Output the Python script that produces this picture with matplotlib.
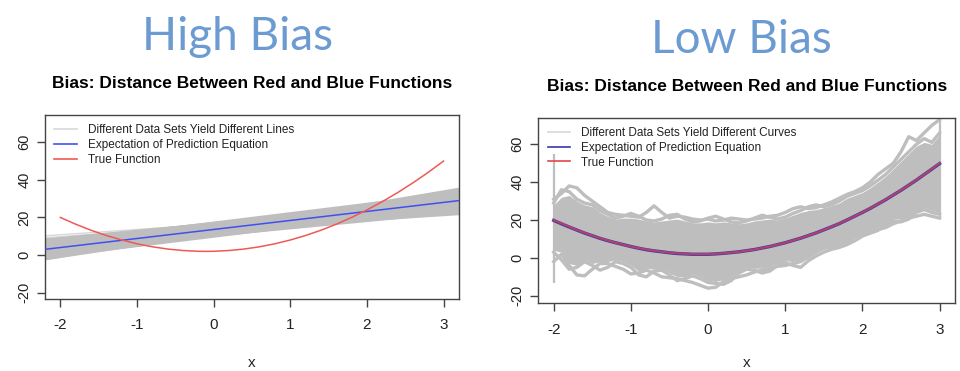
import matplotlib.pyplot as plt

plt.rcParams['font.family'] = ['Liberation Sans', 'DejaVu Sans']

# fitted straight lines (intercept, slope), one per simulated data set
line_intercepts = [13.07, 13.85, 14.63, 15.41, 15.78, 16.56, 14.74, 12.74, 13.70, 12.93, 11.96, 11.59,
                   11.22, 11.44, 12.22, 12.59, 13.37, 13.63, 14.00, 14.37, 16.78, 10.00, 10.56, 17.00]
line_slopes = [6.85, 6.30, 5.74, 5.19, 4.44, 3.89, 3.52, 3.52, 2.59, 3.15, 4.07, 4.81,
               5.56, 6.11, 5.56, 4.81, 4.26, 5.74, 5.00, 4.26, 4.44, 5.00, 3.89, 5.00]
# a couple of stray fits that poke out above the band on the left
stray_intercepts = [16.4, 15.6]
stray_slopes = [2.8, 2.9]
# expectation of the linear prediction equation
expect_intercept = 13.6
expect_slope = 4.8

# true function sampled on x = -2 .. 3
x_grid = [-2.0, -1.9, -1.8, -1.7, -1.6, -1.5, -1.4, -1.3, -1.2, -1.1, -1.0, -0.9, -0.8, -0.7, -0.6, -0.5, -0.4,
          -0.3, -0.2, -0.1, 0.0, 0.1, 0.2, 0.3, 0.4, 0.5, 0.6, 0.7, 0.8, 0.9, 1.0, 1.1, 1.2, 1.3, 1.4, 1.5,
          1.6, 1.7, 1.8, 1.9, 2.0, 2.1, 2.2, 2.3, 2.4, 2.5, 2.6, 2.7, 2.8, 2.9, 3.0]
true_y = [20.0, 18.2, 16.4, 14.8, 13.2, 11.8, 10.4, 9.2, 8.0, 7.0, 6.0, 5.2, 4.4, 3.8, 3.2, 2.8, 2.4,
          2.2, 2.0, 1.95, 2.0, 2.2, 2.4, 2.8, 3.2, 3.8, 4.4, 5.2, 6.0, 7.0, 8.0, 9.2, 10.4, 11.8, 13.2, 14.8,
          16.4, 18.2, 20.0, 22.0, 24.0, 26.2, 28.4, 30.8, 33.2, 35.8, 38.4, 41.2, 44.0, 47.0, 50.0]
# expectation of the flexible fits (sits on top of the true function)
flex_expect_y = [19.8, 18.0, 16.3, 14.7, 13.1, 11.7, 10.3, 9.1, 8.0, 7.0, 6.0, 5.1, 4.3, 3.7, 3.2, 2.7, 2.3,
                 2.1, 1.9, 1.9, 1.9, 2.1, 2.4, 2.8, 3.2, 3.8, 4.4, 5.2, 6.0, 7.0, 8.0, 9.2, 10.4, 11.8, 13.2, 14.8,
                 16.4, 18.1, 20.0, 22.0, 24.0, 26.1, 28.4, 30.7, 33.2, 35.7, 38.4, 41.1, 44.0, 46.9, 49.8]
# dense core of the flexible fits
core_top = [28, 32, 33, 30, 28, 27, 24, 22, 20.5, 21, 21, 20.5, 19.5, 19, 19.5, 20, 20.5,
            19.5, 18.5, 18.5, 19, 18.5, 19, 18.5, 18, 18.5, 19.5, 20, 20.5, 20, 21, 22.5, 24, 25, 25.5, 26.5,
            27.5, 29, 31.5, 33, 34.5, 37, 40, 43, 47, 51, 55, 59, 61, 60, 65]
core_bottom = [4, 3, -3, -4, -1, -3, -2, -2, -1, -2, -4, -7, -5.5, -6, -5.5, -8, -10,
               -10, -8.5, -10, -12, -12.5, -11.5, -10, -7, -5, -5.5, -5.5, -4.5, -3, -1.5, -2, -1, 1.5, 4, 6,
               7, 8, 9.5, 12, 14, 15, 16, 18, 20.5, 20.5, 22, 25, 26.5, 25, 24]
# wiggly individual curves along the outside of the cloud
upper_a = [31, 34, 38, 37, 33, 30, 27, 24, 23, 22.5, 22, 21.5, 24, 27.5, 24, 21, 22,
           21.5, 20.5, 20, 20.5, 19.5, 20, 21, 20.5, 20, 20.5, 21, 22, 22.5, 24, 26, 27, 26, 26.5, 28,
           29.5, 31.5, 33.5, 35, 37, 40, 44, 47, 50, 56, 64, 62, 66, 70, 73]
upper_b = [29, 36, 35, 31, 29, 28, 25, 23, 21, 22, 23.5, 22, 20, 19.5, 20.5, 22.5, 23,
           20.5, 19, 19.5, 21, 22, 20.5, 19, 18.5, 19.5, 21, 22.5, 21.5, 20.5, 21.5, 23.5, 25, 27, 28, 27,
           28, 30, 32.5, 34, 35.5, 38, 41, 44, 48, 52, 56, 60, 63, 61, 66]
lower_a = [-2, 2, -4, -9, -9.5, -6, -3, -3, -4.5, -6, -8.5, -8, -6.5, -8, -10, -10.5, -11,
           -12, -13, -14.5, -16, -15.5, -12.5, -11, -10, -9, -7.5, -6.5, -5.5, -4.5, -4, -3, -2, 0.5, 3, 5,
           6, 7, 8.5, 11, 13, 14, 15, 16, 18, 19.5, 21, 22, 23, 22, 21]
lower_b = [3, -1, -6, -5, -2, -4, -6.5, -5, -2, -3, -5, -9, -10, -7, -6.5, -9, -12,
           -11, -9.5, -11, -13, -13.5, -14, -12, -8, -6, -6.5, -8, -7, -4, -2.5, -4, -5, -1.5, 1, 3,
           4.5, 5.5, 7, 9, 11.5, 13, 14.5, 17, 19.5, 19, 20.5, 24, 25.5, 24, 23]
# spread of the curves right at the two ends of the data
end_x = [-2.0, 3.0]
end_low = [-13.5, 21.0]
end_high = [55.0, 73.0]

title_blue = '#6C9BD2'
band_gray = '#BEBEBE'
axis_col = '#444444'

fig = plt.figure(figsize=(9.6, 3.71), dpi=100)
ax1 = fig.add_axes([0.0469, 0.194, 0.4311, 0.496])
ax2 = fig.add_axes([0.5607, 0.183, 0.4341, 0.499])


def style_axes(ax, ylim, xpad):
    ax.set_xlim(-2.2, 3.2)
    ax.set_ylim(*ylim)
    ax.set_xticks([-2, -1, 0, 1, 2, 3])
    ax.set_xticklabels(['-2', '-1', '0', '1', '2', '3'])
    ax.set_yticks([-20, 0, 20, 40, 60])
    ax.set_yticklabels(['-20', '0', '20', '40', '60'], rotation=90, va='center')
    ax.tick_params(axis='x', length=6, width=1, color=axis_col, pad=8, labelsize=11, labelcolor='#222222')
    ax.tick_params(axis='y', length=6, width=1, color=axis_col, pad=4, labelsize=10.5, labelcolor='#222222')
    for s in ax.spines.values():
        s.set_color(axis_col)
        s.set_linewidth(1.0)
    ax.set_xlabel('x', fontsize=11, color='#222222', labelpad=xpad)
    ax.set_title('Bias: Distance Between Red and Blue Functions', fontsize=12.5, fontweight='bold', pad=19.5)


# left: straight-line fits
for a, b in zip(stray_intercepts, stray_slopes):
    ax1.axline((0, a), slope=b, color='#D8D8D8', lw=1.0, zorder=1)
for a, b in zip(line_intercepts, line_slopes):
    ax1.axline((0, a), slope=b, color=band_gray, lw=2.2, zorder=2)
ax1.plot([], [], color='#D8D8D8', lw=1.5, label='Different Data Sets Yield Different Lines')
ax1.axline((0, expect_intercept), slope=expect_slope, color='#4050F0', lw=1.1, zorder=3,
           label='Expectation of Prediction Equation')
ax1.plot(x_grid, true_y, color='#EE5A55', lw=1.1, zorder=4, label='True Function')
style_axes(ax1, (-23.4, 74.5), 17)

# right: flexible fits
ax2.fill_between(x_grid, core_bottom, core_top, color=band_gray, lw=0, zorder=1)
for curve in (upper_a, upper_b, lower_a, lower_b):
    ax2.plot(x_grid, curve, color=band_gray, lw=2.4, zorder=1, solid_joinstyle='round')
ax2.vlines(end_x, end_low, end_high, color=band_gray, lw=1.6, zorder=1)
ax2.plot([], [], color='#D8D8D8', lw=1.5, label='Different Data Sets Yield Different Curves')
ax2.plot(x_grid, flex_expect_y, color='#3A36B4', lw=2.4, zorder=3, label='Expectation of Prediction Equation')
ax2.plot(x_grid, true_y, color='#E04848', lw=1.6, alpha=0.7, zorder=4, label='True Function')
style_axes(ax2, (-23.9, 73.9), 14)

for ax in (ax1, ax2):
    leg = ax.legend(loc='upper left', bbox_to_anchor=(0.0, 1.0), frameon=False, fontsize=8.5,
                    handlelength=1.9, handletextpad=0.9, labelspacing=0.22, borderpad=0.45,
                    borderaxespad=0.35)
    for t in leg.get_texts():
        t.set_color('#222222')
    for h in leg.get_lines():
        h.set_linewidth(1.2)
        h.set_alpha(1.0)

fig.text(0.247, 0.8652, 'High Bias', fontsize=33, color=title_blue, family='Lato', ha='center', va='baseline')
fig.text(0.772, 0.857, 'Low Bias', fontsize=33, color=title_blue, family='Lato', ha='center', va='baseline')

fig.savefig('out.png', dpi=100)
